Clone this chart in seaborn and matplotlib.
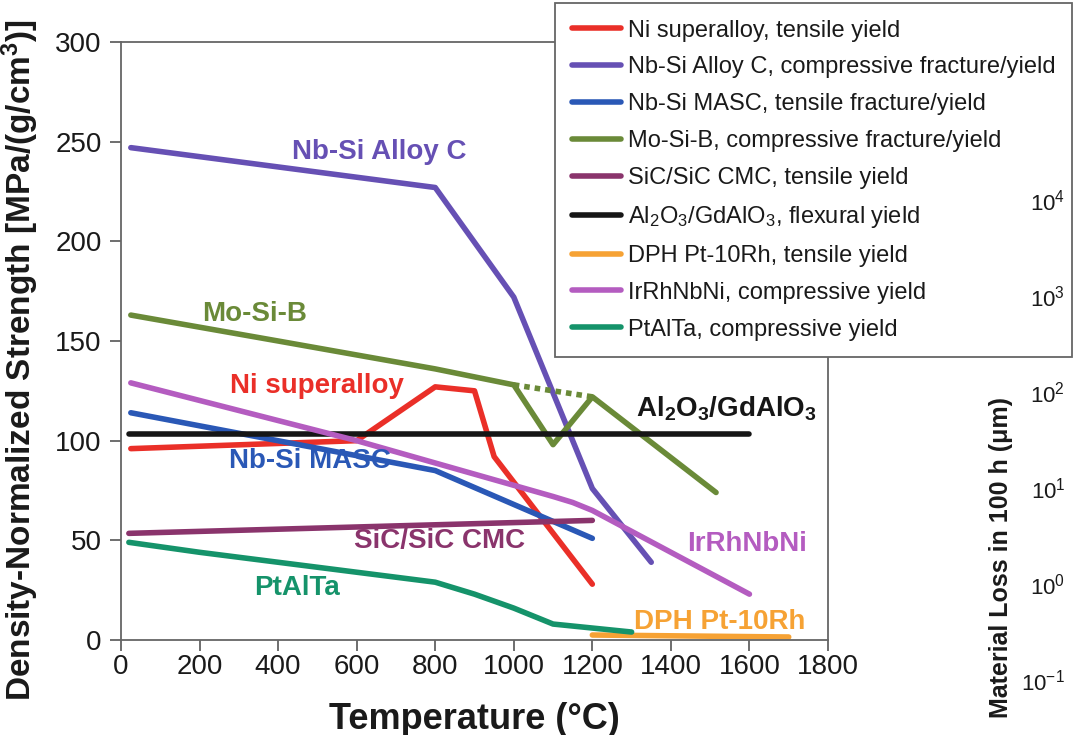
import numpy as np
import pandas as pd
import matplotlib
matplotlib.use("Agg")
import matplotlib.pyplot as plt
from matplotlib.ticker import LogFormatterMathtext, FixedLocator, NullLocator
import seaborn as sns

# ---- series (temperature in °C, density-normalized strength) ----
ni_T = [25, 600, 800, 900, 950, 1200]
ni_S = [96, 100, 127, 125, 92, 28]

nbc_T = [25, 800, 1000, 1200, 1350]
nbc_S = [247, 227, 172, 76, 39]

masc_T = [25, 800, 1000, 1200]
masc_S = [114, 85, 68, 51]

mosib_T = [25, 400, 800, 1000, 1100, 1200, 1515]
mosib_S = [163, 150, 136, 128, 98, 122, 74]
mosib_gap_T = [1000, 1200]
mosib_gap_S = [128, 122]

sic_T = [20, 1200]
sic_S = [53.5, 60]

al2o3_T = [20, 1600]
al2o3_S = [103.5, 103.5]

dph_T = [1200, 1700]
dph_S = [2.5, 1.5]

ir_T = [25, 600, 1100, 1150, 1200, 1600]
ir_S = [129, 100, 72, 69, 65, 23]

ptalta_T = [20, 200, 800, 900, 1000, 1100, 1300]
ptalta_S = [49, 44, 29, 23, 16, 8, 4]

series_names = [
    "Ni superalloy, tensile yield",
    "Nb-Si Alloy C, compressive fracture/yield",
    "Nb-Si MASC, tensile fracture/yield",
    "Mo-Si-B, compressive fracture/yield",
    "SiC/SiC CMC, tensile yield",
    "Al$_2$O$_3$/GdAlO$_3$, flexural yield",
    "DPH Pt-10Rh, tensile yield",
    "IrRhNbNi, compressive yield",
    "PtAlTa, compressive yield",
]
series_T = [ni_T, nbc_T, masc_T, mosib_T, sic_T, al2o3_T, dph_T, ir_T, ptalta_T]
series_S = [ni_S, nbc_S, masc_S, mosib_S, sic_S, al2o3_S, dph_S, ir_S, ptalta_S]
colors = ["#ea2f28", "#6650b4", "#2a58b6", "#6a8a38", "#8a346c",
          "#161616", "#f6a234", "#b45cc0", "#15936a"]

short_labels = ["Ni superalloy", "Nb-Si Alloy C", "Nb-Si MASC", "Mo-Si-B",
                "SiC/SiC CMC", "Al$_2$O$_3$/GdAlO$_3$", "DPH Pt-10Rh",
                "IrRhNbNi", "PtAlTa"]
label_T = [500, 658, 480, 340, 811, 1541, 1524, 1595, 447]
label_S = [127.5, 245, 90, 163.5, 49.5, 116, 9, 48, 26]

x_ticks = list(range(0, 1801, 200))
y_ticks = list(range(0, 301, 50))
loss_ticks = [1e-1, 1e0, 1e1, 1e2, 1e3, 1e4]

# ---- long-form table ----
rows = []
for name, T, S in zip(series_names, series_T, series_S):
    for t, s in zip(T, S):
        rows.append({"Temperature": t, "Strength": s, "Material": name})
df = pd.DataFrame(rows)
gap_df = pd.DataFrame({"Temperature": mosib_gap_T, "Strength": mosib_gap_S})

sns.set_theme(style="white")
plt.rcParams["font.family"] = ["Liberation Sans", "DejaVu Sans"]
plt.rcParams["mathtext.default"] = "regular"

W, H = 1075, 735
fig = plt.figure(figsize=(W / 100, H / 100), dpi=100)
ax = fig.add_axes([121 / W, (H - 640) / H, 707 / W, 598 / H])

palette = dict(zip(series_names, colors))
sns.lineplot(data=df, x="Temperature", y="Strength", hue="Material",
             hue_order=series_names, palette=palette, sort=False,
             estimator=None, linewidth=4, ax=ax, legend=True)
sns.lineplot(data=gap_df, x="Temperature", y="Strength", color=colors[3],
             linewidth=4, linestyle=(0, (1.0, 0.9)), sort=False,
             estimator=None, ax=ax, legend=False)

ax.set_xlim(0, 1800)
ax.set_ylim(0, 300)
ax.set_xticks(x_ticks)
ax.set_yticks(y_ticks)
ax.tick_params(axis="both", which="major", direction="out", length=8,
               width=1.2, color="#555555", labelsize=20, pad=6,
               labelcolor="#1a1a1a")
ax.tick_params(axis="x", bottom=True, pad=2)
ax.tick_params(axis="y", left=True)
for sp in ax.spines.values():
    sp.set_color("#666666")
    sp.set_linewidth(1.3)
ax.set_xlabel("Temperature (°C)", fontsize=26, fontweight="bold",
              color="#1a1a1a", labelpad=16)
ax.set_ylabel("Density-Normalized Strength [MPa/(g/cm$^3$)]", fontsize=24,
              fontweight="bold", color="#1a1a1a")
ax.yaxis.set_label_coords(-80 / 707, 0.468)

# inline curve labels
for txt, t, s, c in zip(short_labels, label_T, label_S, colors):
    ax.text(t, s, txt, color=c, fontsize=20, fontweight="bold",
            ha="center", va="center")

# legend
handles, labels = ax.get_legend_handles_labels()
leg = ax.legend(handles, labels, loc="upper left",
                bbox_to_anchor=(555 / W, 1 - 3 / H),
                bbox_transform=fig.transFigure, borderaxespad=0,
                fontsize=17, frameon=True, fancybox=False,
                edgecolor="#666666", framealpha=1, borderpad=0.7,
                handlelength=2.1, handletextpad=0.3, labelspacing=0.63)
leg.get_frame().set_linewidth(1.3)
for line in leg.get_lines():
    line.set_linewidth(4)
for t in leg.get_texts():
    t.set_color("#1a1a1a")

# material-loss scale on the right
ax2 = fig.add_axes([1068 / W, (H - 680) / H, 0.0005, 480 / H])
ax2.set_yscale("log")
ax2.set_ylim(loss_ticks[0], loss_ticks[-1])
ax2.yaxis.set_major_locator(FixedLocator(loss_ticks))
ax2.yaxis.set_minor_locator(NullLocator())
ax2.yaxis.set_major_formatter(LogFormatterMathtext())
ax2.set_xticks([])
for sp in ax2.spines.values():
    sp.set_visible(False)
ax2.tick_params(axis="y", length=0, labelsize=16, pad=2, labelcolor="#1a1a1a")
ax2.patch.set_alpha(0)
fig.text(1001 / W, (H - 557) / H, "Material Loss in 100 h (μm)", rotation=90,
         ha="center", va="center", fontsize=18, fontweight="bold",
         color="#1a1a1a")

fig.savefig("out.png", dpi=100, facecolor="white")
